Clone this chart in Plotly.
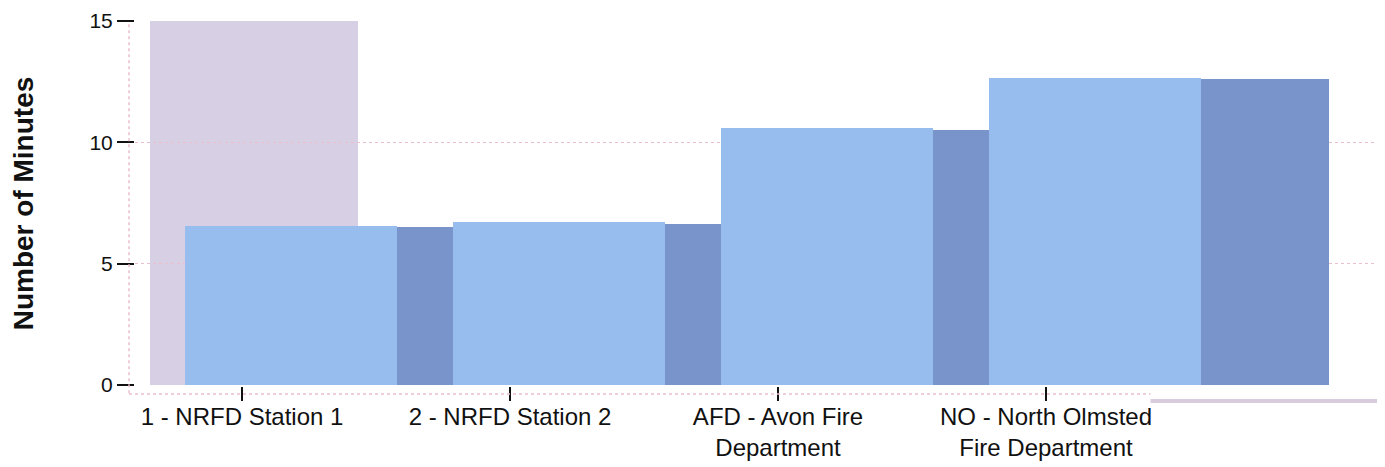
import plotly.graph_objects as go

categories = ["1 - NRFD Station 1", "2 - NRFD Station 2",
              "AFD - Avon Fire<br>Department", "NO - North Olmsted<br>Fire Department"]
positions = [0, 1, 2, 3]
light_values = [6.55, 6.7, 10.6, 12.65]
dark_values = [6.5, 6.65, 10.5, 12.6]
y_ticks = [0, 5, 10, 15]

LIGHT = "#97BDEF"
DARK = "#7894CB"
LAVENDER = "#D7CFE3"
PINK = "#EBBFCB"

fig = go.Figure()
fig.add_trace(go.Bar(x=positions, y=dark_values, offset=0.5783, width=0.4776,
                     marker=dict(color=DARK, line=dict(width=0)), name="dark"))
fig.add_trace(go.Bar(x=positions, y=light_values, offset=-0.2127, width=0.7910,
                     marker=dict(color=LIGHT, line=dict(width=0)), name="light"))

shapes = [
    # lavender highlight band behind first category
    dict(type="rect", xref="x", yref="y", x0=-0.3433, x1=0.4328, y0=0, y1=15,
         fillcolor=LAVENDER, line=dict(width=0), layer="below"),
    # left dashed frame line
    dict(type="line", xref="paper", yref="paper", x0=-0.0048, x1=-0.0048, y0=-0.02, y1=0.995,
         line=dict(color=PINK, width=1.5, dash="dot")),
    # bottom dashed frame line
    dict(type="line", xref="paper", yref="paper", x0=-0.0048, x1=0.815, y0=-0.0217, y1=-0.0217,
         line=dict(color=PINK, width=1.5, dash="dot")),
    # bottom-right lavender strip
    dict(type="line", xref="paper", yref="paper", x0=0.815, x1=0.9995, y0=-0.0408, y1=-0.0408,
         line=dict(color="#D9CCDC", width=4)),
    # right frame line
    dict(type="line", xref="paper", yref="paper", x0=0.9985, x1=0.9985, y0=-0.046, y1=0.967,
         line=dict(color="#D3C8D6", width=2)),
]

# the page body adds an 8px offset, so the figure is sized 8px smaller
fig.update_layout(
    width=1377, height=459,
    margin=dict(l=127, r=4, t=13, b=81),
    paper_bgcolor="white", plot_bgcolor="white",
    barmode="overlay", showlegend=False, bargap=0,
    font=dict(family="Liberation Sans, Arial, sans-serif", color="#111111"),
    shapes=shapes,
    xaxis=dict(range=[-0.3993, 4.25], tickmode="array", tickvals=positions, ticktext=categories,
               ticks="outside", ticklen=14, tickwidth=2, tickcolor="#111111",
               showgrid=False, zeroline=False, showline=False, automargin=False,
               ticklabelstandoff=-5, ticklabeloverflow="allow",
               tickfont=dict(size=24, color="#111111")),
    yaxis=dict(range=[-0.04, 15.0], tickmode="array", tickvals=y_ticks,
               ticks="outside", ticklen=17, tickwidth=2, tickcolor="#111111",
               showgrid=True, gridcolor=PINK, griddash="dot", gridwidth=1,
               zeroline=False, showline=False, automargin=False,
               ticklabeloverflow="allow",
               tickfont=dict(size=21, color="#111111"),
               title=dict(text="<b>Number of Minutes</b>", font=dict(size=28, color="#111111"),
                          standoff=50)),
)

fig.write_html("out.html")
